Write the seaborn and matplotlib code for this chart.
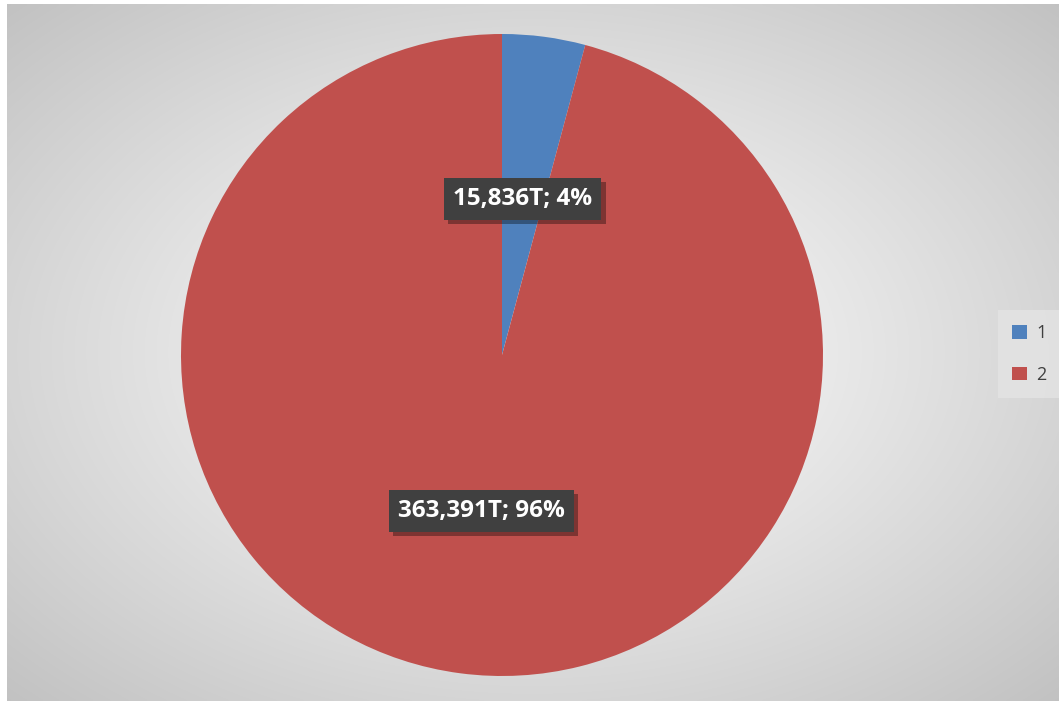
import numpy as np
import matplotlib
matplotlib.use("Agg")
import matplotlib.pyplot as plt
import matplotlib.patheffects as pe
import seaborn as sns

# ---- data ----
categories = ["1", "2"]
values = [15836, 363391]
value_labels = ["15,836T", "363,391T"]
colors = ["#4F81BD", "#C0504D"]

sns.set_theme(style="white")
plt.rcParams['font.family'] = ['Open Sans', 'DejaVu Sans']

W, H = 1059, 701
fig = plt.figure(figsize=(W / 100, H / 100), dpi=100)
fig.patch.set_facecolor("white")

# background radial gradient (chart area)
bg = fig.add_axes([7 / W, 0, 1 - 7 / W, (H - 4) / H])
bg.set_axis_off()
ny, nx = 300, 450
yy, xx = np.mgrid[-1:1:ny * 1j, -1:1:nx * 1j]
d = np.sqrt(xx ** 2 + yy ** 2) / np.sqrt(2)
shade = 1.0 - 0.24 * np.clip(d, 0, 1) ** 1.1
bg.imshow(np.dstack([shade, shade, shade]), extent=[0, 1, 0, 1], aspect="auto",
          interpolation="bilinear", vmin=0, vmax=1)
bg.set_xlim(0, 1)
bg.set_ylim(0, 1)

# pie axes
cx, cy, r = 502, 355, 321
ax = fig.add_axes([(cx - r) / W, (H - cy - r) / H, 2 * r / W, 2 * r / H])
ax.set_axis_off()
total = sum(values)
labels = [f"{v}; {round(x / total * 100)}%" for v, x in zip(value_labels, values)]
wedges, texts = ax.pie(values, colors=colors, startangle=90, counterclock=False,
                       radius=1, labels=labels, labeldistance=0.49,
                       wedgeprops=dict(linewidth=0),
                       textprops=dict(color="white", fontsize=17.5, fontweight="bold",
                                      ha="center", va="center"))
for t in texts:
    t.set_ha("center")
    t.set_va("center")
    t.set_bbox(dict(boxstyle="square,pad=0.38", facecolor="#404040", edgecolor="none"))
    t.get_bbox_patch().set_path_effects([
        pe.SimplePatchShadow(offset=(3, -3), shadow_rgbFace="black", alpha=0.35),
        pe.Normal()])
ax.set_xlim(-1, 1)
ax.set_ylim(-1, 1)

leg = fig.legend(wedges, categories, loc="center left",
                 bbox_to_anchor=(998 / W, (H - 354) / H), borderaxespad=0,
                 frameon=True, fontsize=13, handlelength=0.8, handleheight=0.8,
                 labelspacing=1.3, borderpad=0.8, handletextpad=0.5,
                 fancybox=False, labelcolor="#404040")
leg.get_frame().set_facecolor("#E4E4E4")
leg.get_frame().set_edgecolor("none")

fig.savefig("out.png", dpi=100)
